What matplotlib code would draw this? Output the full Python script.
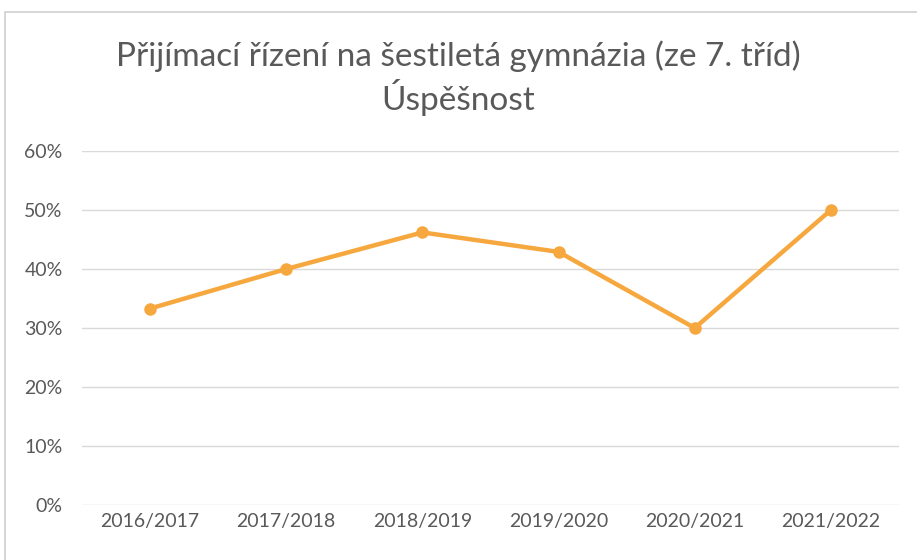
import matplotlib.pyplot as plt
from matplotlib.patches import Rectangle
from matplotlib.ticker import PercentFormatter

plt.rcParams['font.family'] = ['Lato', 'DejaVu Sans']

years = ["2016/2017", "2017/2018", "2018/2019", "2019/2020", "2020/2021", "2021/2022"]
success = [0.333, 0.40, 0.462, 0.429, 0.30, 0.50]

grey = "#595959"
orange = "#F6A83F"

fig = plt.figure(figsize=(9.17, 5.6), dpi=100)
ax = fig.add_axes([82 / 917, 1 - 505 / 560, (899 - 82) / 917, (505 - 151) / 560])

x = range(len(years))
ax.plot(x, success, color=orange, lw=3.2, marker="o", ms=8, solid_capstyle="round")

ax.set_xlim(-0.5, len(years) - 0.5)
ax.set_ylim(0, 0.6)
ax.set_yticks([i / 10 for i in range(7)])
ax.yaxis.set_major_formatter(PercentFormatter(1.0, decimals=0))
ax.set_xticks(list(x))
ax.set_xticklabels(years)
ax.grid(axis="y", color="#d9d9d9", lw=1)
ax.set_axisbelow(True)
for s in ax.spines.values():
    s.set_visible(False)
ax.tick_params(length=0, colors=grey, labelsize=14)
ax.tick_params(axis="y", pad=14)
ax.tick_params(axis="x", pad=6)

fig.text(0.5, 1 - 56 / 560, "Přijímací řízení na šestiletá gymnázia (ze 7. tříd)",
         ha="center", va="center", fontsize=24, color=grey)
fig.text(0.5, 1 - 98 / 560, "Úspěšnost", ha="center", va="center", fontsize=24, color=grey)

# chart area border
fig.patches.append(Rectangle((5 / 917, -0.02), 1.0, 1 - 12 / 560 + 0.02, transform=fig.transFigure,
                             fill=False, edgecolor="#d0d0d0", lw=1.2))

fig.savefig("out.png", dpi=100)
